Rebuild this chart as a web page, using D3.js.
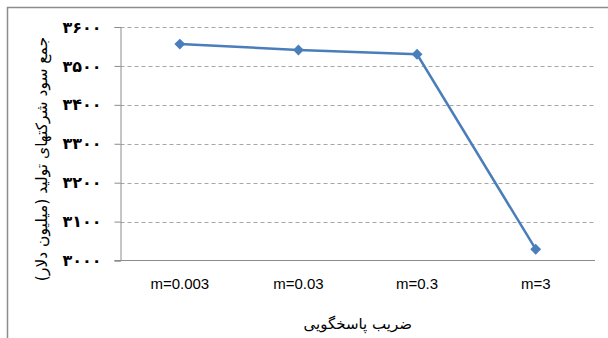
<!DOCTYPE html>
<html><head><meta charset="utf-8">
<script src="https://cdn.jsdelivr.net/npm/d3@7"></script>
<style>body{margin:0;background:#fff}svg{display:block}</style>
</head><body>
<script>
const categories = ["m=0.003","m=0.03","m=0.3","m=3"];
const values = [3556, 3541, 3530, 3029];
const yTicks = [3000,3100,3200,3300,3400,3500,3600];
const yTickLabels = ["۳۰۰۰","۳۱۰۰","۳۲۰۰","۳۳۰۰","۳۴۰۰","۳۵۰۰","۳۶۰۰"];
const xTitle = "ضریب پاسخگویی";
const yTitle = "جمع سود شرکتهای تولید (میلیون دلار)";

(function(){
const W=608,H=338;
const svg=d3.select("body").append("svg").attr("width",W).attr("height",H);
svg.append("rect").attr("x",7.5).attr("y",7.5).attr("width",620).attr("height",360)
  .attr("fill","#fff").attr("stroke","#8c8c8c").attr("stroke-width",1.5);

const pL=120.5,pR=595,pT=27,pB=260.5;
const x=d3.scaleBand().domain(categories).range([pL,pR]);
const y=d3.scaleLinear().domain([3000,3600]).range([pB,pT]);

// gridlines
svg.append("g").selectAll("line").data(yTicks.filter(d=>d>3000)).join("line")
  .attr("x1",pL).attr("x2",pR).attr("y1",d=>Math.round(y(d))+0.5).attr("y2",d=>Math.round(y(d))+0.5)
  .attr("stroke","#a6a6a6").attr("stroke-dasharray","4,3").attr("stroke-width",1);

// y axis
const ya=svg.append("g").attr("transform",`translate(${pL},0)`)
  .call(d3.axisLeft(y).tickValues(yTicks).tickSize(6).tickPadding(13).tickFormat((d,i)=>yTickLabels[i]));
ya.select(".domain").attr("stroke","#8c8c8c");
ya.selectAll(".tick line").attr("stroke","#8c8c8c");
ya.selectAll(".tick text").attr("font-family","'DejaVu Sans', sans-serif").attr("font-weight","bold")
  .attr("font-size","16px").attr("fill","#000");

// x axis
const xa=svg.append("g").attr("transform",`translate(0,${pB})`)
  .call(d3.axisBottom(x).tickSize(0).tickPadding(18));
xa.select(".domain").attr("stroke","#8c8c8c").attr("d",`M${pL-6},0H${pR}`);
xa.selectAll(".tick text").attr("font-family","Arial, 'Liberation Sans', sans-serif")
  .attr("font-size","15px").attr("fill","#000");

// line
const cx=d=>x(d)+x.bandwidth()/2;
svg.append("path").datum(values).attr("fill","none").attr("stroke","#4a7ebb").attr("stroke-width",2.5)
  .attr("d",d3.line().x((d,i)=>cx(categories[i])).y(d=>y(d)));
svg.append("g").selectAll("path").data(values).join("path")
  .attr("d",d3.symbol().type(d3.symbolDiamond2).size(75))
  .attr("transform",(d,i)=>`translate(${cx(categories[i])},${y(d)})`)
  .attr("fill","#4a7ebb");

// titles
svg.append("text").attr("x",(pL+pR)/2).attr("y",329).attr("text-anchor","middle")
  .attr("font-family","'DejaVu Sans', sans-serif").attr("font-size","15px").text(xTitle);
svg.append("text").attr("transform","translate(42,159) rotate(-90)").attr("text-anchor","middle")
  .attr("dominant-baseline","middle").attr("font-family","'DejaVu Sans', sans-serif").attr("font-size","15.5px").text(yTitle);
})();
</script>
</body></html>
